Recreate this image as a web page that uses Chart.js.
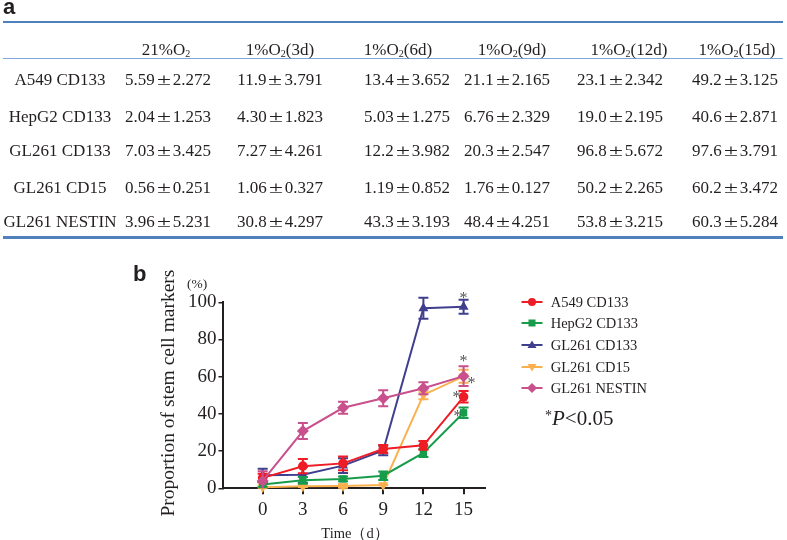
<!DOCTYPE html>
<html><head><meta charset="utf-8">
<script src="https://cdn.jsdelivr.net/npm/chart.js@4.4.0/dist/chart.umd.min.js"></script>
<style>
html,body{margin:0;padding:0;background:#fff;}
#wrap{position:relative;width:787px;height:540px;overflow:hidden;font-family:"Liberation Serif","Times New Roman",serif;color:#231f20;background:#fff;}
canvas{position:absolute;left:0;top:0;}
.t{position:absolute;white-space:nowrap;}
.cell{position:absolute;width:200px;text-align:center;font-size:17px;line-height:20px;white-space:nowrap;}
.pm{display:inline-block;width:18px;text-align:center;transform:scaleX(1.5);}
.sub{font-size:10px;vertical-align:-2px;}
.hl{position:absolute;left:3px;width:780px;}
.leg{position:absolute;left:550.7px;font-size:14.5px;line-height:20px;white-space:nowrap;}
.ico{position:absolute;left:520px;}
</style></head>
<body><div id="wrap">
<canvas id="c" width="787" height="540"></canvas>
<div class="t" style="left:3px;top:-4px;font:bold 22px 'Liberation Sans',Arial,sans-serif;line-height:22px;">a</div>
<div class="hl" style="top:21px;height:2px;background:#4f81bd"></div>
<div class="hl" style="top:57.5px;height:1.5px;background:#7fa6d6"></div>
<div class="hl" style="top:236px;height:2.5px;background:#4f81bd"></div>
<div id="table"></div>
<div class="t" style="left:133px;top:263px;font:bold 22px 'Liberation Sans',Arial,sans-serif;line-height:22px;">b</div>
<div class="t" style="left:187px;top:276px;font-size:13.5px;line-height:15px;">(%)</div>
<div class="t" style="left:18px;top:382px;width:300px;text-align:center;font-size:19.5px;line-height:22px;transform:rotate(-90deg);">Proportion of stem cell markers</div>
<div class="t" style="left:255px;top:525px;width:200px;text-align:center;font-size:14.5px;line-height:16px;">Time（d）</div>
<div id="legend"></div>
<div class="t" style="left:545px;top:404px;font-size:21px;line-height:24px;"><span style="font-size:14px;vertical-align:5px">*</span><i>P</i>&lt;0.05</div>
</div>
<script>
// ---- data ----
const timeDays = [0, 3, 6, 9, 12, 15];
const conditions = ['21%O2', '1%O2(3d)', '1%O2(6d)', '1%O2(9d)', '1%O2(12d)', '1%O2(15d)'];
const seriesNames = ['A549 CD133', 'HepG2 CD133', 'GL261 CD133', 'GL261 CD15', 'GL261 NESTIN'];
const a549Mean   = [5.59, 11.9, 13.4, 21.1, 23.1, 49.2];
const a549Sd     = [2.272, 3.791, 3.652, 2.165, 2.342, 3.125];
const hepg2Mean  = [2.04, 4.30, 5.03, 6.76, 19.0, 40.6];
const hepg2Sd    = [1.253, 1.823, 1.275, 2.329, 2.195, 2.871];
const gl133Mean  = [7.03, 7.27, 12.2, 20.3, 96.8, 97.6];
const gl133Sd    = [3.425, 4.261, 3.982, 2.547, 5.672, 3.791];
const gl15Mean   = [0.56, 1.06, 1.19, 1.76, 50.2, 60.2];
const gl15Sd     = [0.251, 0.327, 0.852, 0.127, 2.265, 3.472];
const nestinMean = [3.96, 30.8, 43.3, 48.4, 53.8, 60.3];
const nestinSd   = [5.231, 4.297, 3.193, 4.251, 3.215, 5.284];
const yTicks = [0, 20, 40, 60, 80, 100];

// ---- styles / layout ----
const means = [a549Mean, hepg2Mean, gl133Mean, gl15Mean, nestinMean];
const sds = [a549Sd, hepg2Sd, gl133Sd, gl15Sd, nestinSd];
const colors = ['#ee1c25', '#179c4b', '#403f8e', '#fbb04e', '#c8508c'];
const pStyles = ['circle', 'rect', 'triangle', 'triangle', 'rectRot'];
const pRot = [0, 0, 0, 180, 0];
const pRad = [4.8, 5.2, 5.8, 5.8, 6];
const drawOrder = [1, 2, 3, 4, 0];

// table
const headCx = [166, 280, 398, 512, 629, 737];
const dataCx = [168, 280, 407, 507, 620, 735];
const rowCy = [80, 116.7, 150.8, 187.5, 222];
const fmtMean = v => v < 1 ? v.toFixed(2) : v.toPrecision(3);
let html = '';
conditions.forEach((c, j) => {
  const h = c.replace('O2', 'O<span class="sub">2</span>');
  html += `<div class="cell" style="left:${headCx[j]-100}px;top:${50-10}px">${h}</div>`;
});
seriesNames.forEach((n, i) => {
  html += `<div class="cell" style="left:${60-100}px;top:${rowCy[i]-10}px">${n}</div>`;
  means[i].forEach((m, j) => {
    html += `<div class="cell" style="left:${dataCx[j]-100}px;top:${rowCy[i]-10}px">${fmtMean(m)}<span class="pm">±</span>${sds[i][j].toFixed(3)}</div>`;
  });
});
document.getElementById('table').innerHTML = html;

// legend
function markerSvg(i) {
  const c = colors[i];
  let m = '';
  if (i === 0) m = `<circle cx="12" cy="10" r="4" fill="${c}"/>`;
  if (i === 1) m = `<rect x="8.5" y="6.5" width="7" height="7" fill="${c}"/>`;
  if (i === 2) m = `<polygon points="12,5.5 16.5,13 7.5,13" fill="${c}"/>`;
  if (i === 3) m = `<polygon points="12,14.5 16.5,7 7.5,7" fill="${c}"/>`;
  if (i === 4) m = `<polygon points="12,5 17,10 12,15 7,10" fill="${c}"/>`;
  return `<svg width="24" height="20"><line x1="1.5" y1="10" x2="22.5" y2="10" stroke="${c}" stroke-width="2"/>${m}</svg>`;
}
let lg = '';
const legCy = [301.7, 323.3, 345, 366.7, 388.3];
seriesNames.forEach((n, i) => {
  lg += `<div class="ico" style="top:${legCy[i]-10}px">${markerSvg(i)}</div>`;
  lg += `<div class="leg" style="top:${legCy[i]-10}px">${n}</div>`;
});
document.getElementById('legend').innerHTML = lg;

// ---- chart ----
const errBars = {
  id: 'errBars',
  beforeDatasetDraw(chart, args) {
    const ds = chart.data.datasets[args.index];
    const ys = chart.scales.y, ca = chart.chartArea, ctx = chart.ctx;
    ctx.save();
    ctx.strokeStyle = ds.borderColor; ctx.lineWidth = 2;
    args.meta.data.forEach((pt, j) => {
      const v = ds.data[j].y, e = ds.sd[j];
      const t = ys.getPixelForValue(v + e);
      const b = Math.min(ys.getPixelForValue(v - e), ca.bottom);
      ctx.beginPath();
      ctx.moveTo(pt.x, t); ctx.lineTo(pt.x, b);
      ctx.moveTo(pt.x - 5, t); ctx.lineTo(pt.x + 5, t);
      if (b < ca.bottom) { ctx.moveTo(pt.x - 5, b); ctx.lineTo(pt.x + 5, b); }
      ctx.stroke();
    });
    ctx.restore();
  }
};
const stars = [
  {ds: 2, dx: 0, dy: -12},
  {ds: 4, dx: 0, dy: -18},
  {ds: 4, dx: 8, dy: 4},
  {ds: 0, dx: -7, dy: -3},
  {ds: 1, dx: -6, dy: 0}
];
const starPlugin = {
  id: 'stars',
  afterDatasetsDraw(chart) {
    const ctx = chart.ctx;
    ctx.save();
    ctx.fillStyle = '#555';
    ctx.font = '16px "Liberation Serif"';
    ctx.textAlign = 'center';
    ctx.textBaseline = 'alphabetic';
    stars.forEach(s => {
      const meta = chart.getDatasetMeta(s.ds);
      const pt = meta.data[meta.data.length - 1];
      ctx.fillText('*', pt.x + s.dx, pt.y + s.dy + 8);
    });
    ctx.restore();
  }
};

const datasets = seriesNames.map((n, i) => ({
  label: n,
  data: timeDays.map((t, j) => ({x: t, y: means[i][j]})),
  sd: sds[i],
  borderColor: colors[i],
  backgroundColor: colors[i],
  borderWidth: 2,
  pointStyle: pStyles[i],
  pointRotation: pRot[i],
  pointRadius: pRad[i],
  pointBorderWidth: 0,
  pointHoverRadius: pRad[i],
  order: drawOrder[i],
  clip: false,
  tension: 0
}));

const axisColor = '#231f20';
new Chart(document.getElementById('c'), {
  type: 'line',
  data: {datasets},
  plugins: [errBars, starPlugin],
  options: {
    responsive: false,
    animation: false,
    events: [],
    layout: {padding: {left: 182.5, right: 302, top: 302.3, bottom: 11.7}},
    plugins: {legend: {display: false}, tooltip: {enabled: false}},
    scales: {
      x: {
        type: 'linear', min: -3, max: 16.6,
        afterBuildTicks: s => { s.ticks = timeDays.map(v => ({value: v})); },
        afterFit: s => { s.height = 40; },
        border: {display: true, color: axisColor, width: 2},
        grid: {drawOnChartArea: false, drawTicks: true, tickLength: 6, color: axisColor, lineWidth: 2},
        ticks: {color: axisColor, padding: 4, font: {family: 'Liberation Serif', size: 19}, maxRotation: 0}
      },
      y: {
        min: 0, max: 100,
        afterBuildTicks: s => { s.ticks = yTicks.map(v => ({value: v})); },
        afterFit: s => { s.width = 40; },
        border: {display: true, color: axisColor, width: 2},
        grid: {drawOnChartArea: false, drawTicks: true, tickLength: 4, color: axisColor, lineWidth: 1.5},
        ticks: {color: axisColor, padding: 2, font: {family: 'Liberation Serif', size: 19}}
      }
    }
  }
});
</script>
</body></html>
